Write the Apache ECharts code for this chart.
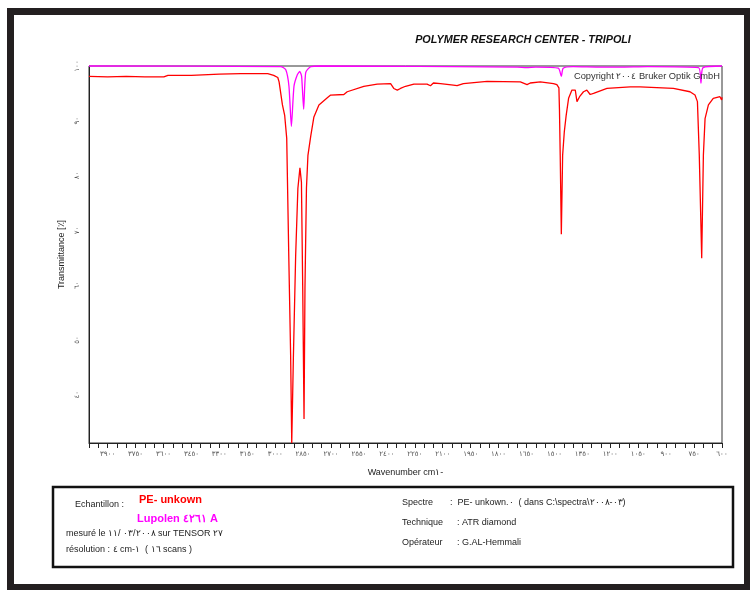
<!DOCTYPE html>
<html>
<head>
<meta charset="utf-8">
<script src="https://cdn.jsdelivr.net/npm/echarts@6/dist/echarts.min.js"></script>
<style>html,body{margin:0;padding:0;background:#fff}#c{width:750px;height:590px}</style>
</head>
<body>
<div id="c"></div>
<script>
// ---- data ----
const redWavenumber = [4000,3900,3800,3700,3598,3576,3450,3300,3185,3100,3040,3008,2986,2979,2961,2949,2938,2927,2917,2911,2902,2890,2878,2867,2859,2852,2845,2840,2832,2824,2809,2792,2765,2756,2720,2702,2631,2613,2524,2452,2380,2363,2344,2327,2318,2300,2255,2184,2166,2150,2112,2043,2023,1989,1862,1683,1647,1630,1576,1505,1487,1476,1473,1469,1463,1456,1447,1437,1424,1406,1388,1379,1365,1344,1326,1308,1290,1218,1093,1040,861,772,745,732,722,709,700,691,673,647,611,602,600];
const redTransmittance = [98.1,98.0,98.1,98.0,98.0,98.3,98.3,98.5,98.6,98.6,98.6,98.3,97.9,97.1,92.9,91.0,86.8,65.4,47.2,31.2,47.2,65.4,77.7,81.4,78.8,59.4,35.6,59.4,77.7,83.7,87.2,90.7,92.9,93.2,94.2,94.7,94.8,95.3,96.3,96.7,96.8,95.9,95.6,95.9,95.6,96.3,96.7,96.7,96.4,96.9,96.8,96.5,96.4,96.8,97.2,97.1,96.6,96.9,97.1,96.8,96.6,96.0,92.0,83.7,69.3,83.7,88.0,91.0,94.1,95.6,95.6,93.5,94.4,95.3,95.6,94.8,95.0,95.9,96.2,96.2,95.9,95.3,94.7,93.5,83.7,64.9,83.7,90.4,92.9,94.1,94.4,93.8,94.3];
const magentaWavenumber = [4000,2970,2943,2926,2913,2899,2881,2868,2858,2847,2836,2809,2756,1700,1650,1600,1479,1463,1453,1400,1250,1150,1000,726,713,702,600];
const magentaTransmittance = [100,99.9,99.3,96.3,89.0,96.3,98.4,99.0,98.1,92.1,98.8,99.9,100,99.8,99.7,99.8,99.6,98.1,99.6,99.9,99.8,99.8,99.9,99.7,96.9,99.7,100];
const yTickValues = [40,50,60,70,80,90,100];
const xRange = [600, 4000];
const yRange = [31.2, 100];

const LRM = '\u200E';
const titleText = 'POLYMER RESEARCH CENTER - TRIPOLI';
const copyrightText = 'Copyright ٢٠٠٤ Bruker Optik GmbH';
const xAxisName = 'Wavenumber cm' + LRM + '١' + LRM + '-';
const yAxisName = 'Transmittance [٪]';

const arabicDigits = '٠١٢٣٤٥٦٧٨٩';
function toArabic(v){ return String(v).replace(/[0-9]/g, d => arabicDigits[+d]); }
function pairs(xs, ys){ return xs.map((x,i)=>[x, ys[i]]); }

const chart = echarts.init(document.getElementById('c'), null, {renderer:'canvas'});
const txt = '#222';
const F = '"Liberation Sans", Arial, sans-serif';

chart.setOption({
  animation: false,
  backgroundColor: '#fff',
  grid: { left: 89, right: 28, top: 66, bottom: 147, show: true, borderColor: '#333', borderWidth: 1, containLabel: false },
  xAxis: {
    type: 'value', inverse: true, min: xRange[0], max: xRange[1], interval: 50,
    name: xAxisName, nameLocation: 'middle', nameGap: 25,
    nameTextStyle: { fontFamily: F, fontSize: 9, color: txt },
    axisLine: { show: true, lineStyle: { color: '#222', width: 1 } },
    axisTick: { show: true, inside: false, length: 5, lineStyle: { color: '#222' } },
    axisLabel: { show: true, margin: 8, fontSize: 7, color: '#555', fontFamily: '"DejaVu Sans", sans-serif',
      formatter: v => (v % 150 === 0 ? toArabic(v) : '') , showMinLabel: true, showMaxLabel: true, hideOverlap: false },
    splitLine: { show: false }
  },
  yAxis: {
    type: 'value', min: yRange[0], max: yRange[1],
    name: yAxisName, nameLocation: 'middle', nameGap: 23, nameRotate: 90,
    nameTextStyle: { fontFamily: F, fontSize: 9, color: txt },
    axisLine: { show: true, lineStyle: { color: '#222', width: 1 } },
    axisTick: { show: false, customValues: yTickValues },
    axisLabel: { show: true, rotate: 90, margin: 8, fontSize: 7, color: '#555', fontFamily: '"DejaVu Sans", sans-serif',
      customValues: yTickValues, formatter: v => toArabic(v) },
    splitLine: { show: false }
  },
  series: [
    { type: 'line', data: pairs(redWavenumber, redTransmittance), showSymbol: false, symbol: 'none', clip: true,
      lineStyle: { color: '#ff0000', width: 1.3 }, z: 3 },
    { type: 'line', data: pairs(magentaWavenumber, magentaTransmittance), showSymbol: false, symbol: 'none', clip: false,
      lineStyle: { color: '#ff00ff', width: 1.3 }, smooth: 0.2, z: 4 }
  ],
  graphic: [
    // outer frame bands
    { type: 'rect', shape: { x: 7, y: 8, width: 743, height: 7 }, style: { fill: '#231f20' }, silent: true },
    { type: 'rect', shape: { x: 7, y: 8, width: 7, height: 582 }, style: { fill: '#231f20' }, silent: true },
    { type: 'rect', shape: { x: 7, y: 584, width: 743, height: 6 }, style: { fill: '#231f20' }, silent: true },
    { type: 'rect', shape: { x: 744, y: 8, width: 6, height: 582 }, style: { fill: '#231f20' }, silent: true },
    // title
    { type: 'text', style: { x: 523, y: 40, text: titleText, textAlign: 'center', textVerticalAlign: 'middle',
      font: 'italic bold 10.8px ' + F, fill: '#111' } },
    { type: 'text', style: { x: 720, y: 76, text: copyrightText, textAlign: 'right', textVerticalAlign: 'middle',
      font: '9.3px ' + F, fill: '#333' }, z: 10 },
    // info box
    { type: 'rect', shape: { x: 53, y: 487, width: 680, height: 80 }, style: { fill: 'none', stroke: '#111', lineWidth: 2.5 } },
    { type: 'text', style: { x: 75, y: 505, text: 'Echantillon :', textVerticalAlign: 'middle', font: '9px ' + F, fill: txt } },
    { type: 'text', style: { x: 139, y: 500, text: 'PE- unkown', textVerticalAlign: 'middle', font: 'bold 11px ' + F, fill: '#ff0000' } },
    { type: 'text', style: { x: 137, y: 519, text: 'Lupolen ٤٢٦١ A', textVerticalAlign: 'middle', font: 'bold 11px ' + F, fill: '#ff00ff' } },
    { type: 'text', style: { x: 66, y: 534, text: 'mesuré le ١١' + LRM + '/' + LRM + ' ٠٣' + LRM + '/' + LRM + '٢٠٠٨' + LRM + ' sur TENSOR ٢٧', textVerticalAlign: 'middle', font: '9px ' + F, fill: txt } },
    { type: 'text', style: { x: 66, y: 550, text: 'résolution : ٤ cm' + LRM + '-' + LRM + '١  ( ١٦ scans )', textVerticalAlign: 'middle', font: '9px ' + F, fill: txt } },
    { type: 'text', style: { x: 402, y: 503, text: 'Spectre', textVerticalAlign: 'middle', font: '9px ' + F, fill: txt } },
    { type: 'text', style: { x: 450, y: 503, text: ':  PE- unkown.٠' + LRM + '  ( dans C:\\spectra\\' + LRM + '٢٠٠٨' + LRM + '-' + LRM + '٠٣' + LRM + ')', textVerticalAlign: 'middle', font: '9px ' + F, fill: txt } },
    { type: 'text', style: { x: 402, y: 523, text: 'Technique', textVerticalAlign: 'middle', font: '9px ' + F, fill: txt } },
    { type: 'text', style: { x: 457, y: 523, text: ': ATR diamond', textVerticalAlign: 'middle', font: '9px ' + F, fill: txt } },
    { type: 'text', style: { x: 402, y: 543, text: 'Opérateur', textVerticalAlign: 'middle', font: '9px ' + F, fill: txt } },
    { type: 'text', style: { x: 457, y: 543, text: ': G.AL-Hemmali', textVerticalAlign: 'middle', font: '9px ' + F, fill: txt } }
  ]
});
</script>
</body>
</html>
